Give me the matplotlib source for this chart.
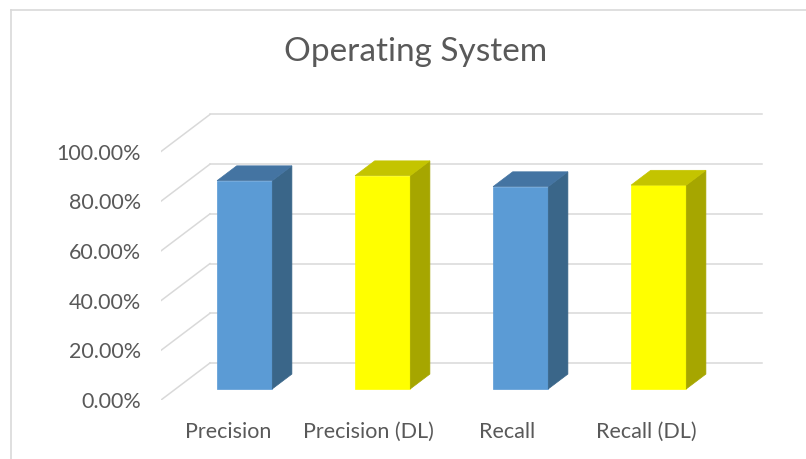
import matplotlib
matplotlib.use("Agg")
import matplotlib.pyplot as plt
from matplotlib.patches import Polygon
from matplotlib.lines import Line2D

categories = ['Precision', 'Precision (DL)', 'Recall', 'Recall (DL)']
scores = [83.8, 85.8, 81.4, 82.0]
yticks = [0, 20, 40, 60, 80, 100]
ytick_labels = ['0.00%', '20.00%', '40.00%', '60.00%', '80.00%', '100.00%']

# face colours (front, side, top) for plain and DL bars
blue = ('#5B9BD5', '#3A6689', '#4474A2')
yellow = ('#FFFF00', '#A6A600', '#C4C400')
bar_colors = [blue, yellow, blue, yellow]

# oblique projection of the depth axis, in data units
DX, DY = 0.355, 14.9
BAR_W = 0.4
Z0, Z1 = 0.3, 0.7

plt.rcParams['font.family'] = ['Lato', 'DejaVu Sans']
W, H = 806, 459
fig = plt.figure(figsize=(W / 100, H / 100), dpi=100)
ax = fig.add_axes([161 / W, (H - 400) / H, (W - 161) / W, 300 / H])
ax.set_xlim(0, 645 / 138)
ax.set_ylim(0, 300 / 2.485)


def proj(x, z, v):
    return (x + z * DX, v + z * DY)


grid = '#D9D9D9'
n = len(categories)
for v in yticks:
    # side wall diagonal and back wall line
    ax.plot(*zip(proj(0, 0, v), proj(0, 1, v)), color=grid, lw=1.1, zorder=1)
    ax.plot(*zip(proj(0, 1, v), proj(n, 1, v)), color=grid, lw=1.1, zorder=1)

for i, (val, cols) in enumerate(zip(scores, bar_colors)):
    x0 = i + 0.5 - BAR_W / 2
    x1 = i + 0.5 + BAR_W / 2
    front = [proj(x0, Z0, 0), proj(x1, Z0, 0), proj(x1, Z0, val), proj(x0, Z0, val)]
    side = [proj(x1, Z0, 0), proj(x1, Z1, 0), proj(x1, Z1, val), proj(x1, Z0, val)]
    top = [proj(x0, Z0, val), proj(x1, Z0, val), proj(x1, Z1, val), proj(x0, Z1, val)]
    for pts, c in zip((front, side, top), cols):
        ax.add_patch(Polygon(pts, closed=True, facecolor=c, edgecolor=c,
                             lw=0.5, zorder=3))

for s in ax.spines.values():
    s.set_visible(False)
ax.set_yticks(yticks)
ax.set_yticklabels(ytick_labels)
ax.set_xticks([0.49, 1.5, 2.51, 3.52])
ax.set_xticklabels(categories)
ax.tick_params(length=0, labelsize=15.5, labelcolor='#595959')
ax.tick_params(axis='y', pad=14.5)
ax.tick_params(axis='x', pad=16)
ax.patch.set_alpha(0)

fig.text(416 / W, 1 - 52 / H, 'Operating System', ha='center', va='center',
         fontsize=24, color='#595959')

# chart border
fig.add_artist(Line2D([11 / W, 1], [1 - 9.5 / H] * 2, color=grid, lw=1.2,
                      transform=fig.transFigure))
fig.add_artist(Line2D([11 / W] * 2, [0, 1 - 9.5 / H], color=grid, lw=1.2,
                      transform=fig.transFigure))

fig.savefig('out.png', dpi=100)
